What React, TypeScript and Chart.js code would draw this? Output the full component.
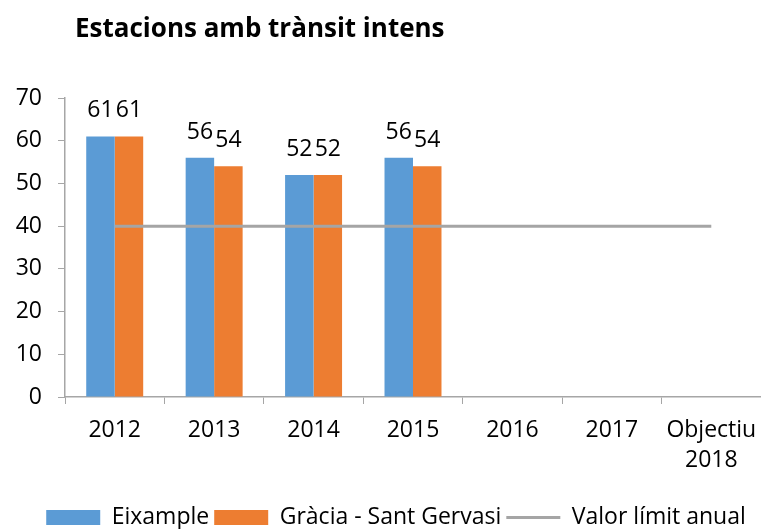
import React, { useEffect, useRef } from "react";
import { Chart, registerables } from "chart.js";

Chart.register(...registerables);

const TITLE = "Estacions amb trànsit intens";
const categories: (string | string[])[] = ["2012", "2013", "2014", "2015", "2016", "2017", ["Objectiu", "2018"]];
const eixample: (number | null)[] = [61, 56, 52, 56, null, null, null];
const gracia: (number | null)[] = [61, 54, 52, 54, null, null, null];
const valorLimit: number[] = [40, 40, 40, 40, 40, 40, 40];
const yTicks = { min: 0, max: 70, step: 10 };

const FONT = "'Open Sans', sans-serif";
const TEXT = "#000000";
const AXIS = "#a6a6a6";
const FS = 23;

const titlePlugin = {
  id: "leftTitle",
  afterDraw(chart: any) {
    const ctx = chart.ctx;
    ctx.save();
    ctx.font = `bold 26px ${FONT}`;
    ctx.fillStyle = TEXT;
    ctx.textAlign = "left";
    ctx.textBaseline = "alphabetic";
    ctx.fillText(TITLE, 75, 37);
    ctx.restore();
  },
};

const legendShift = {
  id: "legendShift",
  afterLayout(chart: any) {
    if (chart.legend) chart.legend.left += 16;
  },
};

const barLabels = {
  id: "barLabels",
  afterDatasetsDraw(chart: any) {
    const ctx = chart.ctx;
    ctx.save();
    ctx.font = `${FS}px ${FONT}`;
    ctx.fillStyle = TEXT;
    ctx.textAlign = "center";
    ctx.textBaseline = "alphabetic";
    chart.data.datasets.forEach((ds: any, i: number) => {
      if (ds.type === "line") return;
      const meta = chart.getDatasetMeta(i);
      meta.data.forEach((el: any, j: number) => {
        const v = ds.data[j];
        if (v == null) return;
        ctx.fillText(String(v), el.x, el.y - 19);
      });
    });
    ctx.restore();
  },
};

export default function App() {
  const ref = useRef<HTMLCanvasElement>(null);
  useEffect(() => {
    document.body.style.margin = "0";
    const chart = new Chart(ref.current!, {
      type: "bar",
      data: {
        labels: categories,
        datasets: [
          {
            label: "Eixample",
            data: eixample,
            backgroundColor: "#5b9bd5",
            borderWidth: 0,
            categoryPercentage: 0.573,
            barPercentage: 1,
            order: 2,
          } as any,
          {
            label: "Gràcia - Sant Gervasi",
            data: gracia,
            backgroundColor: "#ed7d31",
            borderWidth: 0,
            categoryPercentage: 0.573,
            barPercentage: 1,
            order: 2,
          },
          {
            type: "line",
            label: "Valor límit anual",
            data: valorLimit,
            borderColor: "#a5a5a5",
            backgroundColor: "#a5a5a5",
            borderWidth: 3,
            pointRadius: 0,
            order: 1,
          },
        ],
      },
      options: {
        animation: false,
        responsive: false,
        maintainAspectRatio: false,
        layout: { padding: { top: 98, left: 15, right: 0, bottom: -10 } },
        plugins: {
          title: { display: false },
          tooltip: { enabled: false },
          legend: {
            position: "bottom",
            labels: {
              font: { family: FONT, size: FS },
              color: TEXT,
              usePointStyle: true,
              pointStyleWidth: 54,
              boxHeight: 15,
              padding: 5,
              generateLabels(chart: any) {
                return chart.data.datasets.map((ds: any, i: number) => ({
                  text: ds.label,
                  fillStyle: ds.backgroundColor,
                  strokeStyle: ds.type === "line" ? ds.borderColor : ds.backgroundColor,
                  lineWidth: ds.type === "line" ? 3 : 0,
                  pointStyle: ds.type === "line" ? "line" : "rect",
                  hidden: false,
                  datasetIndex: i,
                  fontColor: TEXT,
                }));
              },
            },
          },
        },
        scales: {
          x: {
            afterFit(scale: any) {
              scale.height = 104;
              scale.paddingLeft = 0;
              scale.paddingRight = 0;
            },
            grid: {
              display: true,
              drawOnChartArea: false,
              drawTicks: true,
              tickLength: 7,
              color: AXIS,
              offset: true,
            },
            border: { display: true, color: AXIS, width: 1.5 },
            ticks: {
              font: { family: FONT, size: FS, lineHeight: 1.3 },
              color: TEXT,
              maxRotation: 0,
              autoSkip: false,
              padding: 12,
            },
          },
          y: {
            min: yTicks.min,
            max: yTicks.max,
            afterFit(scale: any) {
              scale.width = 50;
            },
            ticks: {
              stepSize: yTicks.step,
              font: { family: FONT, size: FS },
              color: TEXT,
              padding: 16,
            },
            grid: {
              display: true,
              drawOnChartArea: false,
              drawTicks: true,
              tickLength: 7,
              color: AXIS,
            },
            border: { display: true, color: AXIS, width: 1.5 },
          },
        },
      },
      plugins: [titlePlugin, barLabels, legendShift],
    } as any);
    return () => chart.destroy();
  }, []);
  return (
    <div style={{ position: "absolute", left: 0, top: 0, width: 761, height: 529, background: "#fff" }}>
      <canvas ref={ref} width={761} height={529} style={{ display: "block", width: 761, height: 529 }} />
    </div>
  );
}
